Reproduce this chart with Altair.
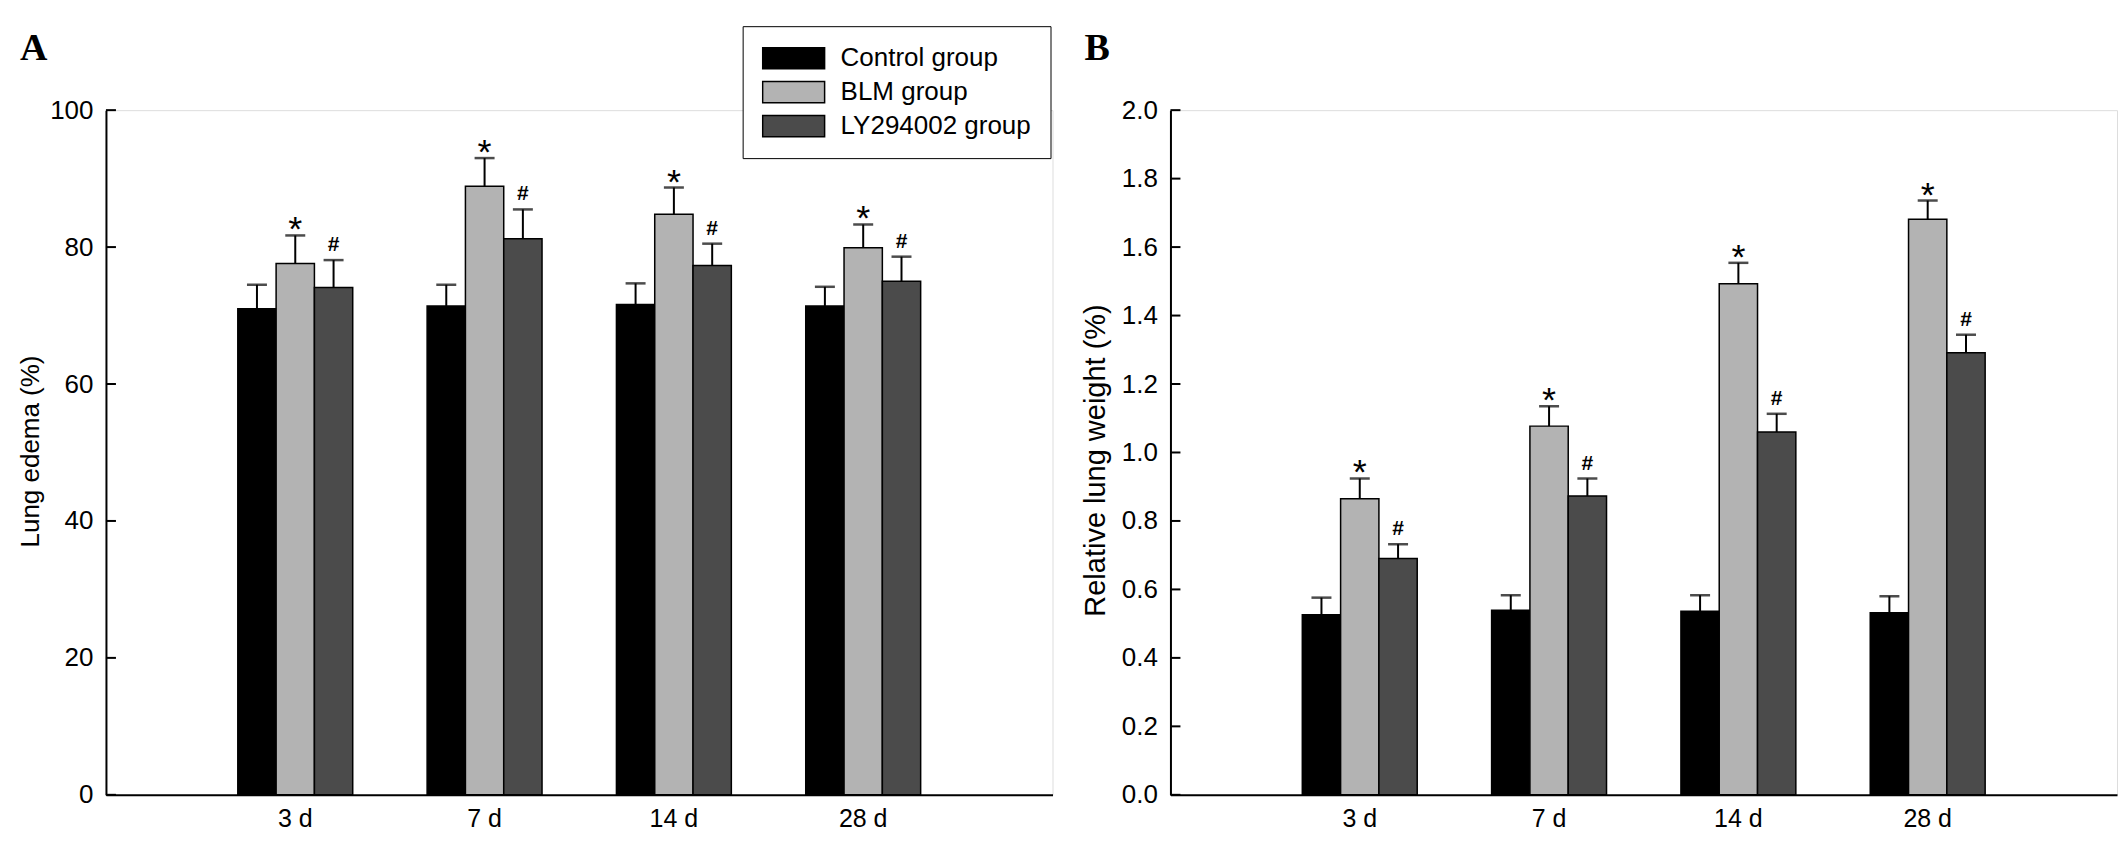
import altair as alt
import pandas as pd

SANS = "Liberation Sans"
SERIF = "Liberation Serif"

days = ["3 d", "7 d", "14 d", "28 d"]
groups = ["Control group", "BLM group", "LY294002 group"]
colors = ["#000000", "#b3b3b3", "#4b4b4b"]
signs = ["", "*", "#"]

# panel A - lung edema (%)
edema_control = [71.0, 71.4, 71.6, 71.4]
edema_control_err = [3.5, 3.1, 3.1, 2.8]
edema_blm = [77.6, 88.9, 84.8, 79.9]
edema_blm_err = [4.1, 4.1, 3.9, 3.4]
edema_ly = [74.1, 81.2, 77.3, 75.0]
edema_ly_err = [4.0, 4.3, 3.2, 3.6]
edema_ticks = [0, 20, 40, 60, 80, 100]

# panel B - relative lung weight (%)
weight_control = [0.526, 0.539, 0.536, 0.532]
weight_control_err = [0.050, 0.044, 0.047, 0.048]
weight_blm = [0.865, 1.077, 1.493, 1.681]
weight_blm_err = [0.059, 0.058, 0.061, 0.055]
weight_ly = [0.690, 0.873, 1.060, 1.291]
weight_ly_err = [0.042, 0.051, 0.053, 0.053]
weight_ticks = [0.0, 0.2, 0.4, 0.6, 0.8, 1.0, 1.2, 1.4, 1.6, 1.8, 2.0]


def long_table(values, errors):
    rows = []
    for g, vals, errs, s in zip(groups, values, errors, signs):
        for d, v, e in zip(days, vals, errs):
            rows.append({"day": d, "group": g, "value": v, "upper": v + e, "sign": s})
    return pd.DataFrame(rows)


def panel(df, ticks, fmt, ytitle, title_size, title_y, letter, legend):
    yscale = alt.Scale(domain=[ticks[0], ticks[-1]], nice=False)
    x = alt.X("day:N", sort=days,
              scale=alt.Scale(paddingInner=0.393, paddingOuter=0.6965),
              axis=alt.Axis(title=None, labelAngle=0, ticks=False, labelPadding=12,
                            labelFont=SANS, labelFontSize=25, labelColor="black",
                            domainColor="black", domainWidth=2))
    xo = alt.XOffset("group:N", sort=groups, scale=alt.Scale(paddingInner=0, paddingOuter=0))
    base = alt.Chart(df)

    bars = base.mark_bar(stroke="black", strokeWidth=1.5).encode(
        x=x, xOffset=xo,
        y=alt.Y("value:Q", scale=yscale,
                axis=alt.Axis(values=ticks, format=fmt, grid=False, ticks=False, tickSize=0,
                              labelPadding=13, labelFont=SANS, labelFontSize=26,
                              labelColor="black", domainColor="black", domainWidth=2,
                              title=ytitle, titleFont=SANS, titleFontSize=title_size,
                              titleFontWeight="normal", titleColor="black",
                              titleX=-75, titleY=title_y, titleAlign="center",
                              titleBaseline="middle")),
        color=alt.Color("group:N", sort=groups,
                        scale=alt.Scale(domain=groups, range=colors), legend=legend),
    )
    whisk = base.mark_rule(color="black", strokeWidth=2).encode(
        x=x, xOffset=xo, y=alt.Y("value:Q"), y2="upper:Q")
    caps = base.mark_tick(color="black", thickness=2.5, size=20, orient="horizontal").encode(
        x=x, xOffset=xo, y=alt.Y("upper:Q"))
    stars = base.transform_filter(alt.datum.sign == "*").mark_text(
        text="*", font=SANS, fontSize=36, baseline="alphabetic", dy=6, color="black"
    ).encode(x=x, xOffset=xo, y=alt.Y("upper:Q"))
    hashes = base.transform_filter(alt.datum.sign == "#").mark_text(
        text="#", font=SANS, fontSize=21, fontWeight="bold", baseline="alphabetic", dy=-9,
        color="black"
    ).encode(x=x, xOffset=xo, y=alt.Y("upper:Q"))
    yticks = alt.Chart(pd.DataFrame({"v": ticks})).mark_rule(color="black", strokeWidth=2).encode(
        y=alt.Y("v:Q", scale=yscale), x=alt.value(0), x2=alt.value(10))
    tag = alt.Chart(pd.DataFrame({"t": [letter]})).mark_text(
        font=SERIF, fontSize=38, fontWeight="bold", align="left", baseline="alphabetic",
        color="black"
    ).encode(text="t:N", x=alt.value(-86), y=alt.value(-50))

    return alt.layer(bars, whisk, caps, stars, hashes, yticks, tag).properties(
        width=947, height=685)


legend_a = alt.Legend(title=None, orient="none", legendX=637, legendY=-84,
                      symbolType="M-1,-0.34H1V0.34H-1Z", symbolSize=3844,
                      symbolStrokeColor="black", symbolStrokeWidth=1.5, clipHeight=26,
                      labelFont=SANS, labelFontSize=26, labelColor="black", labelOffset=15,
                      labelLimit=500, rowPadding=8, padding=19, strokeColor="black",
                      fillColor="white")

chart_a = panel(long_table([edema_control, edema_blm, edema_ly],
                           [edema_control_err, edema_blm_err, edema_ly_err]),
                edema_ticks, "d", "Lung edema (%)", 26, 341, "A", legend_a)
chart_b = panel(long_table([weight_control, weight_blm, weight_ly],
                           [weight_control_err, weight_blm_err, weight_ly_err]),
                weight_ticks, ".1f", "Relative lung weight (%)", 29, 350, "B", None)

chart = alt.hconcat(chart_a, chart_b, spacing=27).properties(
    padding={"left": 9, "top": 17, "right": 0, "bottom": 0}
).configure_view(strokeWidth=0).configure_legend(strokeWidth=2).configure(background="white")

chart.save("out.html", embed_options={"renderer": "svg", "actions": False})
